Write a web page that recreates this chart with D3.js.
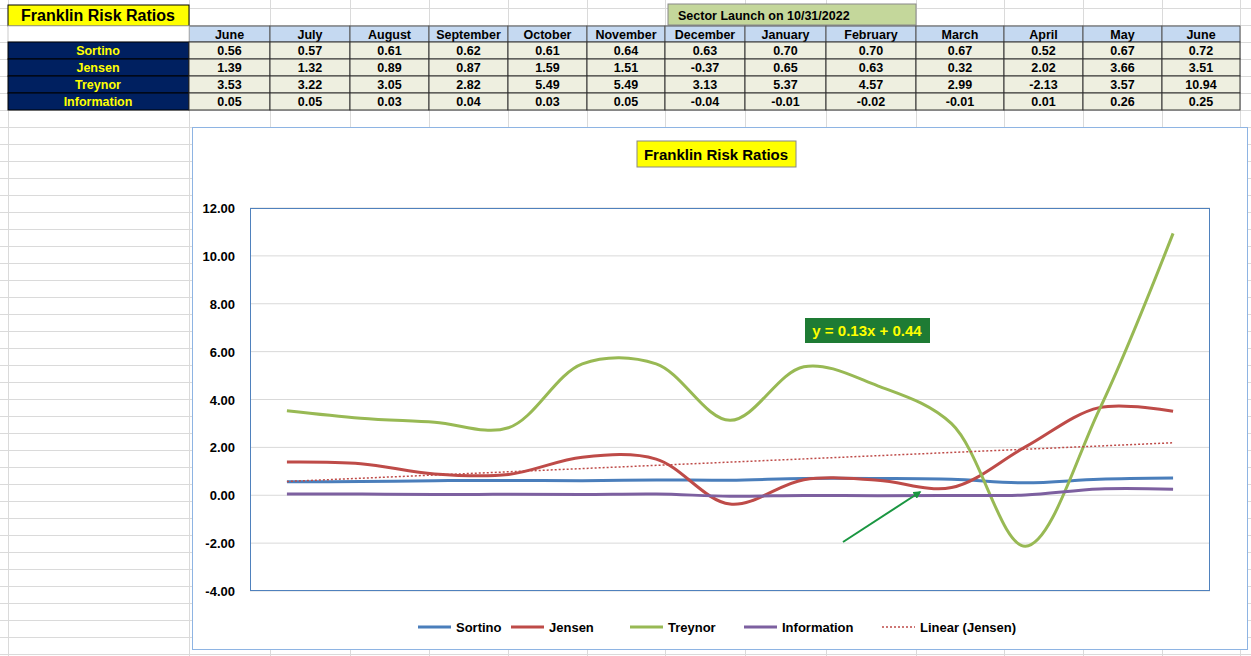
<!DOCTYPE html>
<html><head><meta charset="utf-8">
<script src="https://cdn.jsdelivr.net/npm/d3@7"></script>
<style>body{margin:0;background:#fff;font-family:Arial,"Liberation Sans",sans-serif}</style>
</head><body><svg id="c" width="1251" height="656"></svg>
<script>
var months = ["June","July","August","September","October","November","December","January","February","March","April","May","June"];
var series = ["Sortino","Jensen","Treynor","Information"];
var sortino = [0.56,0.57,0.61,0.62,0.61,0.64,0.63,0.70,0.70,0.67,0.52,0.67,0.72];
var jensen = [1.39,1.32,0.89,0.87,1.59,1.51,-0.37,0.65,0.63,0.32,2.02,3.66,3.51];
var treynor = [3.53,3.22,3.05,2.82,5.49,5.49,3.13,5.37,4.57,2.99,-2.13,3.57,10.94];
var information = [0.05,0.05,0.03,0.04,0.03,0.05,-0.04,-0.01,-0.02,-0.01,0.01,0.26,0.25];
var yTicks = [-4,-2,0,2,4,6,8,10,12];
var colors = ["#4a7ebb","#be4b48","#98b954","#7d60a0"];
var values = [sortino,jensen,treynor,information];

var svg = d3.select("#c");

// spreadsheet grid background
var colEdges = [8,189,270,350,429,508,587,665,745,826,916,1004,1083,1162,1240];
var g0 = svg.append("g").attr("stroke","#dadada").attr("stroke-width",1);
colEdges.forEach(function(x){ g0.append("line").attr("x1",x+0.5).attr("x2",x+0.5).attr("y1",0).attr("y2",656); });
for (var y = 8; y < 656; y += 17) g0.append("line").attr("x1",0).attr("x2",1251).attr("y1",y+0.5).attr("y2",y+0.5);

// title cell
svg.append("rect").attr("x",8).attr("y",5).attr("width",181).attr("height",21).attr("fill","#ffff00").attr("stroke","#000");
svg.append("text").attr("x",98).attr("y",21).attr("text-anchor","middle").style("font-weight","bold").style("font-size","16px").text("Franklin Risk Ratios");
svg.append("rect").attr("x",668).attr("y",4).attr("width",248).attr("height",21).attr("fill","#c4d79b").attr("stroke","#888");
svg.append("text").attr("x",678).attr("y",20).style("font-weight","bold").style("font-size","12.5px").text("Sector Launch on 10/31/2022");

// header row
for (var i = 0; i < 13; i++) {
  var x0 = colEdges[i+1], w = colEdges[i+2]-x0;
  svg.append("rect").attr("x",x0).attr("y",26).attr("width",w).attr("height",16).attr("fill","#c5d9f1").attr("stroke","#555");
  svg.append("text").attr("x",x0+w/2).attr("y",39).attr("text-anchor","middle").style("font-weight","bold").style("font-size","12.5px").text(months[i]);
}
svg.append("rect").attr("x",8).attr("y",26).attr("width",181).attr("height",16).attr("fill","#fff").attr("stroke","#ccc");
series.forEach(function(s, r){
  var y0 = 42 + r*17;
  svg.append("rect").attr("x",8).attr("y",y0).attr("width",181).attr("height",17).attr("fill","#002060").attr("stroke","#000");
  svg.append("text").attr("x",98).attr("y",y0+13).attr("text-anchor","middle").attr("fill","#ffff00").style("font-weight","bold").style("font-size","12.5px").text(s);
  values[r].forEach(function(v, i){
    var x0 = colEdges[i+1], w = colEdges[i+2]-x0;
    svg.append("rect").attr("x",x0).attr("y",y0).attr("width",w).attr("height",17).attr("fill","#eeefe0").attr("stroke","#333");
    svg.append("text").attr("x",x0+w/2).attr("y",y0+13).attr("text-anchor","middle").style("font-weight","bold").style("font-size","12.5px").text(v.toFixed(2));
  });
});

// chart
svg.append("rect").attr("x",192.5).attr("y",127.5).attr("width",1055).attr("height",522).attr("fill","#fff").attr("stroke","#8eb4e3");
svg.append("rect").attr("x",637).attr("y",141).attr("width",159).attr("height",26).attr("fill","#ffff00").attr("stroke","#888");
svg.append("text").attr("x",716).attr("y",160).attr("text-anchor","middle").style("font-weight","bold").style("font-size","15px").text("Franklin Risk Ratios");

var x = d3.scaleBand().domain(d3.range(13)).range([250,1210]);
var yS = d3.scaleLinear().domain([-4,12]).range([591,208]);
var cx = function(i){ return x(i) + x.bandwidth()/2; };

svg.append("g").selectAll("line").data(yTicks).join("line")
  .attr("x1",250).attr("x2",1210).attr("y1",d=>yS(d)).attr("y2",d=>yS(d)).attr("stroke","#d9d9d9");
svg.append("rect").attr("x",250.5).attr("y",208.5).attr("width",959).attr("height",382).attr("fill","none").attr("stroke","#4f81bd");
svg.append("g").selectAll("text").data(yTicks).join("text")
  .attr("x",235).attr("y",d=>yS(d)+5).attr("text-anchor","end").style("font-weight","bold").style("font-size","13px")
  .text(d=>d.toFixed(2));

var line = d3.line().x((d,i)=>cx(i)).y(d=>yS(d)).curve(d3.curveCatmullRom.alpha(0.5));
values.forEach(function(v, r){
  svg.append("path").attr("d",line(v)).attr("fill","none").attr("stroke",colors[r]).attr("stroke-width",3);
});

// linear trend of Jensen
var xs = d3.range(1,14), mx = d3.mean(xs), my = d3.mean(jensen);
var slope = d3.sum(xs, (t,i)=>(t-mx)*(jensen[i]-my)) / d3.sum(xs, t=>(t-mx)*(t-mx));
var icpt = my - slope*mx;
svg.append("line").attr("x1",cx(0)).attr("x2",cx(12)).attr("y1",yS(slope*1+icpt)).attr("y2",yS(slope*13+icpt))
  .attr("stroke","#be4b48").attr("stroke-width",1.5).attr("stroke-dasharray","2,2");

svg.append("rect").attr("x",805).attr("y",318).attr("width",125).attr("height",25).attr("fill","#1e7b34");
svg.append("text").attr("x",867).attr("y",336).attr("text-anchor","middle").attr("fill","#ffff00").style("font-weight","bold").style("font-size","15px")
  .text("y = " + slope.toFixed(2) + "x + " + icpt.toFixed(2));

svg.append("defs").append("marker").attr("id","ah").attr("viewBox","0 0 10 10").attr("refX",8).attr("refY",5)
  .attr("markerWidth",4).attr("markerHeight",4).attr("orient","auto")
  .append("path").attr("d","M0,0L10,5L0,10z").attr("fill","#1a9641");
svg.append("line").attr("x1",843).attr("y1",542).attr("x2",920).attr("y2",492).attr("stroke","#1a9641").attr("stroke-width",2).attr("marker-end","url(#ah)");

// legend
var legItems = series.concat(["Linear (Jensen)"]);
var legX = [418,511,630,744,882];
legItems.forEach(function(s, i){
  var g = svg.append("g");
  var ln = g.append("line").attr("x1",legX[i]).attr("x2",legX[i]+33).attr("y1",627).attr("y2",627);
  if (i < 4) ln.attr("stroke",colors[i]).attr("stroke-width",3);
  else ln.attr("stroke","#be4b48").attr("stroke-width",1.5).attr("stroke-dasharray","2,2");
  g.append("text").attr("x",legX[i]+38).attr("y",632).style("font-weight","bold").style("font-size","13px").text(s);
});
</script></body></html>
